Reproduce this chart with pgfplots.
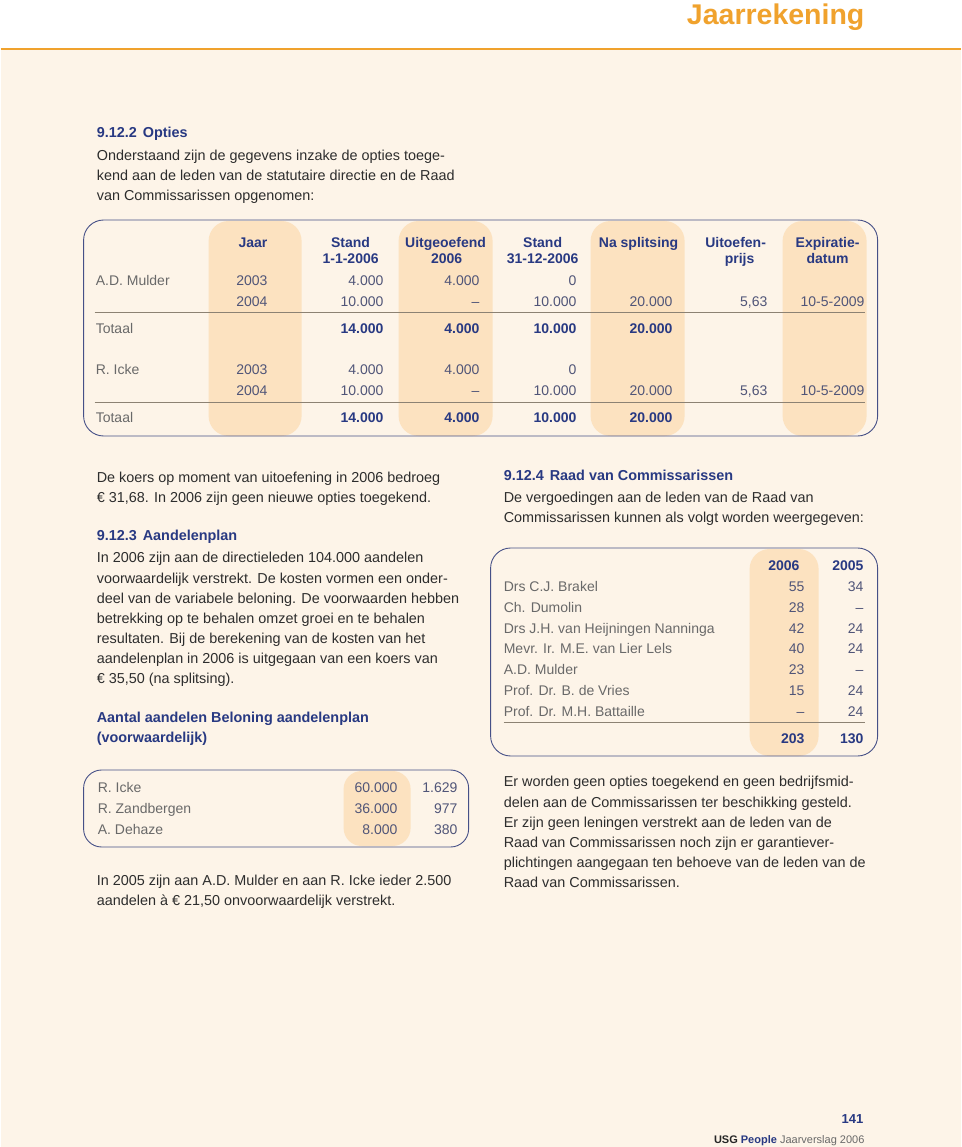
\documentclass[border=0pt]{standalone}
\usepackage{pgfplots}
\pgfplotsset{compat=1.18}
\usepackage{fontspec}
\setmainfont{Liberation Sans}

\definecolor{navy}{RGB}{40,57,130}
\definecolor{titleor}{RGB}{240,162,45}
\definecolor{bgc}{RGB}{253,244,232}
\definecolor{hl}{RGB}{252,226,192}
\definecolor{bodyc}{RGB}{45,45,45}
\definecolor{namec}{RGB}{105,105,105}
\definecolor{numc}{RGB}{80,85,120}
\definecolor{rulec}{RGB}{140,130,115}
\definecolor{boxc}{RGB}{70,80,135}

\tikzset{
  body/.style={anchor=mid west, inner sep=0pt, yshift=-2.5pt, text=bodyc, font=\fontsize{14.4}{17}\selectfont},
  sec/.style={body, text=navy, font=\bfseries\fontsize{14.4}{17}\selectfont},
  nm/.style={anchor=mid west, inner sep=0pt, yshift=-2.5pt, text=namec, font=\fontsize{14}{16}\selectfont},
  hd/.style={anchor=mid, inner sep=0pt, yshift=-2.5pt, text=navy, font=\bfseries\fontsize{14}{16}\selectfont},
}
\pgfplotsset{
  cell/.style={draw=none, mark=none, forget plot, nodes near coords,
    point meta=explicit symbolic,
    nodes near coords style={anchor=mid east, inner sep=0pt, yshift=-2.5pt, text=numc, font=\fontsize{14}{16}\selectfont}},
  cellb/.style={cell, nodes near coords style={text=navy, font=\bfseries\fontsize{14}{16}\selectfont}},
}

\begin{document}
\begin{tikzpicture}
\begin{axis}[scale only axis, width=960pt, height=1147pt,
  xmin=0, xmax=960, ymin=0, ymax=1147, y dir=reverse,
  hide axis, clip=false]

% page background
\fill[white] (axis cs:0,0) rectangle (axis cs:960,49);
\fill[bgc] (axis cs:0,49) rectangle (axis cs:960,1147);
\draw[titleor, line width=1.2pt] (axis cs:0,49) -- (axis cs:960,49);
\node[anchor=base east, inner sep=0pt, text=titleor, font=\bfseries\fontsize{28.5}{30}\selectfont] at (axis cs:864,25) {Jaarrekening};

% intro
\node[sec] at (axis cs:96,132) {9.12.2\hspace{6pt}Opties};
\node[body] at (axis cs:96,155) {Onderstaand zijn de gegevens inzake de opties toege-};
\node[body] at (axis cs:96,175) {kend aan de leden van de statutaire directie en de Raad};
\node[body] at (axis cs:96,195) {van Commissarissen opgenomen:};

% table 1
\fill[hl, rounded corners=20pt] (axis cs:208,221) rectangle (axis cs:301,436);
\fill[hl, rounded corners=20pt] (axis cs:398,221) rectangle (axis cs:492,436);
\fill[hl, rounded corners=20pt] (axis cs:590,221) rectangle (axis cs:684,436);
\fill[hl, rounded corners=20pt] (axis cs:782,221) rectangle (axis cs:866,436);
\draw[boxc, line width=0.9pt, rounded corners=20pt] (axis cs:83,220) rectangle (axis cs:877,436);
\draw[rulec, line width=0.8pt] (axis cs:94,312) -- (axis cs:864,312);
\draw[rulec, line width=0.8pt] (axis cs:94,402) -- (axis cs:864,402);

\node[nm] at (axis cs:95,280) {A.D. Mulder};
\node[nm] at (axis cs:95,328) {Totaal};
\node[nm] at (axis cs:95,369) {R. Icke};
\node[nm] at (axis cs:95,417) {Totaal};

\node[hd, anchor=mid east] at (axis cs:267,242) {Jaar};
\node[hd] at (axis cs:350,242) {Stand};
\node[hd] at (axis cs:350,258) {1-1-2006};
\node[hd] at (axis cs:445,242) {Uitgeoefend};
\node[hd] at (axis cs:446,258) {2006};
\node[hd] at (axis cs:542,242) {Stand};
\node[hd] at (axis cs:542,258) {31-12-2006};
\node[hd] at (axis cs:638,242) {Na splitsing};
\node[hd] at (axis cs:735,242) {Uitoefen-};
\node[hd] at (axis cs:739,258) {prijs};
\node[hd] at (axis cs:827,242) {Expiratie-};
\node[hd] at (axis cs:827,258) {datum};

\addplot[cell] coordinates {(267,280) [2003] (267,301) [2004] (267,369) [2003] (267,390) [2004]};
\addplot[cell] coordinates {(383,280) [4.000] (383,301) [10.000] (383,369) [4.000] (383,390) [10.000]};
\addplot[cell] coordinates {(479,280) [4.000] (479,301) [–] (479,369) [4.000] (479,390) [–]};
\addplot[cell] coordinates {(576,280) [0] (576,301) [10.000] (576,369) [0] (576,390) [10.000]};
\addplot[cell] coordinates {(672,301) [20.000] (672,390) [20.000]};
\addplot[cell] coordinates {(767,301) [{5,63}] (767,390) [{5,63}]};
\addplot[cell] coordinates {(864,301) [10-5-2009] (864,390) [10-5-2009]};
\addplot[cellb] coordinates {(383,328) [14.000] (479,328) [4.000] (576,328) [10.000] (672,328) [20.000]};
\addplot[cellb] coordinates {(383,417) [14.000] (479,417) [4.000] (576,417) [10.000] (672,417) [20.000]};

% left column
\node[body] at (axis cs:96,477) {De koers op moment van uitoefening in 2006 bedroeg};
\node[body] at (axis cs:96,497) {€ 31,68. In 2006 zijn geen nieuwe opties toegekend.};
\node[sec] at (axis cs:96,535) {9.12.3\hspace{6pt}Aandelenplan};
\node[body] at (axis cs:96,557) {In 2006 zijn aan de directieleden 104.000 aandelen};
\node[body] at (axis cs:96,578) {voorwaardelijk verstrekt. De kosten vormen een onder-};
\node[body] at (axis cs:96,598) {deel van de variabele beloning. De voorwaarden hebben};
\node[body] at (axis cs:96,618) {betrekking op te behalen omzet groei en te behalen};
\node[body] at (axis cs:96,638) {resultaten. Bij de berekening van de kosten van het};
\node[body] at (axis cs:96,658) {aandelenplan in 2006 is uitgegaan van een koers van};
\node[body] at (axis cs:96,678) {€ 35,50 (na splitsing).};
\node[sec] at (axis cs:96,717) {Aantal aandelen Beloning aandelenplan};
\node[sec] at (axis cs:96,737) {(voorwaardelijk)};

% table 3
\fill[hl, rounded corners=18pt] (axis cs:343,771) rectangle (axis cs:410,846);
\draw[boxc, line width=0.9pt, rounded corners=18pt] (axis cs:83,770) rectangle (axis cs:468,847);
\node[nm] at (axis cs:97,787) {R. Icke};
\node[nm] at (axis cs:97,808) {R. Zandbergen};
\node[nm] at (axis cs:97,829) {A. Dehaze};
\addplot[cell] coordinates {(397,787) [60.000] (397,808) [36.000] (397,829) [8.000]};
\addplot[cell] coordinates {(457,787) [1.629] (457,808) [977] (457,829) [380]};

\node[body] at (axis cs:96,880) {In 2005 zijn aan A.D. Mulder en aan R. Icke ieder 2.500};
\node[body] at (axis cs:96,900) {aandelen à € 21,50 onvoorwaardelijk verstrekt.};

% right column
\node[sec] at (axis cs:503,475) {9.12.4\hspace{6pt}Raad van Commissarissen};
\node[body] at (axis cs:503,497) {De vergoedingen aan de leden van de Raad van};
\node[body] at (axis cs:503,517) {Commissarissen kunnen als volgt worden weergegeven:};

% table 2
\fill[hl, rounded corners=20pt] (axis cs:749,549) rectangle (axis cs:818,756);
\draw[boxc, line width=0.9pt, rounded corners=20pt] (axis cs:490,548) rectangle (axis cs:877,756);
\node[hd, anchor=mid east] at (axis cs:799,565) {2006};
\node[hd, anchor=mid east] at (axis cs:863,565) {2005};
\node[nm] at (axis cs:503,586) {Drs C.J. Brakel};
\node[nm] at (axis cs:503,607) {Ch. Dumolin};
\node[nm] at (axis cs:503,628) {Drs J.H. van Heijningen Nanninga};
\node[nm] at (axis cs:503,648) {Mevr. Ir. M.E. van Lier Lels};
\node[nm] at (axis cs:503,669) {A.D. Mulder};
\node[nm] at (axis cs:503,690) {Prof. Dr. B. de Vries};
\node[nm] at (axis cs:503,711) {Prof. Dr. M.H. Battaille};
\addplot[cell] coordinates {(804,586) [55] (804,607) [28] (804,628) [42] (804,648) [40] (804,669) [23] (804,690) [15] (804,711) [–]};
\addplot[cell] coordinates {(863,586) [34] (863,607) [–] (863,628) [24] (863,648) [24] (863,669) [–] (863,690) [24] (863,711) [24]};
\draw[rulec, line width=0.8pt] (axis cs:503,722) -- (axis cs:864,722);
\addplot[cellb] coordinates {(804,738) [203] (863,738) [130]};

\node[body] at (axis cs:503,781) {Er worden geen opties toegekend en geen bedrijfsmid-};
\node[body] at (axis cs:503,802) {delen aan de Commissarissen ter beschikking gesteld.};
\node[body] at (axis cs:503,822) {Er zijn geen leningen verstrekt aan de leden van de};
\node[body] at (axis cs:503,842) {Raad van Commissarissen noch zijn er garantiever-};
\node[body] at (axis cs:503,862) {plichtingen aangegaan ten behoeve van de leden van de};
\node[body] at (axis cs:503,882) {Raad van Commissarissen.};

% footer
\node[anchor=mid east, inner sep=0pt, yshift=-2.5pt, text=navy, font=\bfseries\fontsize{13}{15}\selectfont] at (axis cs:863,1118) {141};
\node[anchor=mid east, inner sep=0pt, yshift=-2pt, text=namec, font=\fontsize{11}{13}\selectfont] at (axis cs:864,1139)
  {{\bfseries\color{black!85}USG} {\bfseries\color{navy}People} Jaarverslag 2006};

\end{axis}
\end{tikzpicture}
\end{document}
